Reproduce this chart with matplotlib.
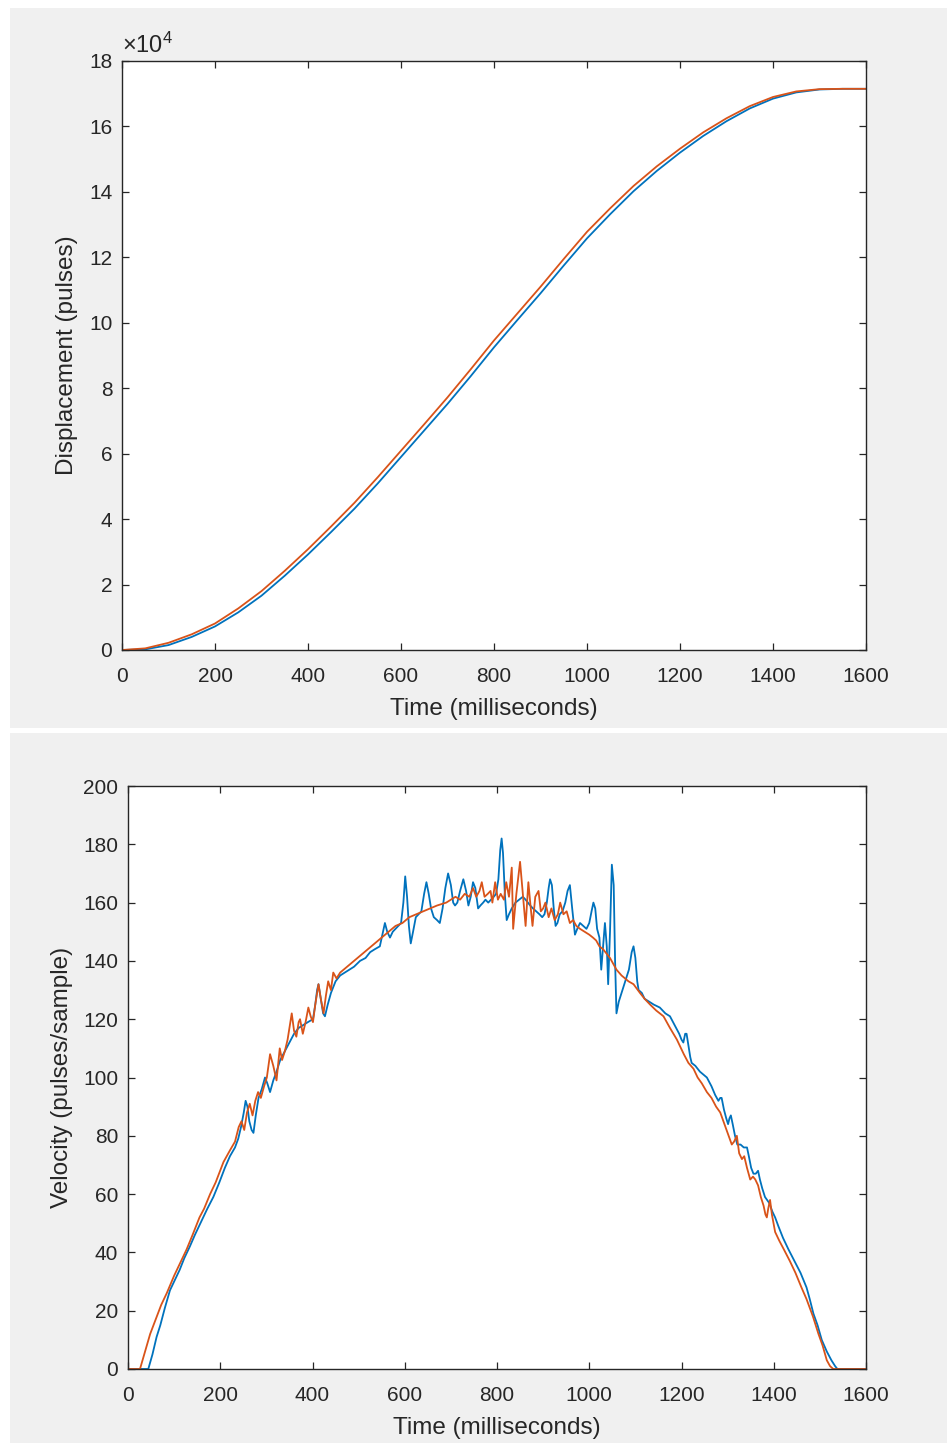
import numpy as np
import matplotlib.pyplot as plt
from matplotlib.patches import Rectangle

plt.rcParams['font.family'] = ['Liberation Sans', 'DejaVu Sans']
plt.rcParams['mathtext.fontset'] = 'custom'
plt.rcParams['mathtext.rm'] = 'Liberation Sans'
plt.rcParams['mathtext.it'] = 'Liberation Sans:italic'

# ---------------- displacement (x 1e4 pulses) ----------------
t_disp = [0, 50, 100, 150, 200, 250, 300, 350, 400, 450, 500, 550, 600, 650, 700, 750, 800,
          850, 900, 950, 1000, 1050, 1100, 1150, 1200, 1250, 1300, 1350, 1400, 1450, 1500, 1550, 1600]
disp_blue = [0, 0.02, 0.15, 0.40, 0.72, 1.15, 1.66, 2.27, 2.92, 3.61, 4.32, 5.09, 5.90, 6.71, 7.52, 8.37, 9.25,
             10.08, 10.90, 11.75, 12.58, 13.32, 14.02, 14.64, 15.20, 15.71, 16.16, 16.55, 16.85, 17.04, 17.13, 17.15, 17.15]
disp_orange = [0, 0.05, 0.22, 0.48, 0.81, 1.27, 1.80, 2.42, 3.08, 3.78, 4.50, 5.28, 6.09, 6.90, 7.72, 8.58, 9.46,
               10.28, 11.10, 11.95, 12.78, 13.50, 14.18, 14.78, 15.32, 15.82, 16.25, 16.62, 16.90, 17.07, 17.14, 17.15, 17.15]

# ---------------- velocity (pulses/sample) ----------------
t_vel_blue = [0, 44, 53, 62, 70, 80, 91, 100, 112, 122, 134, 145, 160, 172, 185, 198, 210, 221, 232, 239,
              245, 251, 255, 259, 263, 268, 272, 277, 283, 290, 297, 302, 308, 315, 322, 330, 340, 350, 360, 370,
              380, 390, 401, 406, 410, 413, 418, 423, 427, 433, 440, 450, 460, 470, 480, 490, 503, 515, 525, 535,
              546, 553, 557, 562, 568, 574, 580, 586, 592, 597, 601, 605, 609, 613, 618, 624, 630, 636, 642, 647,
              652, 657, 663, 670, 676, 682, 688, 694, 700, 705, 709, 714, 720, 727, 733, 738, 743, 748, 753, 759,
              764, 770, 775, 781, 787, 793, 798, 803, 807, 810, 813, 817, 821, 826, 832, 840, 848, 856, 862, 867,
              872, 878, 885, 892, 898, 903, 908, 912, 915, 919, 923, 927, 931, 936, 942, 948, 953, 958, 963, 969,
              974, 980, 987, 994, 1000, 1005, 1009, 1013, 1017, 1022, 1026, 1030, 1034, 1038, 1041, 1045, 1049, 1053, 1056, 1059,
              1064, 1070, 1078, 1086, 1092, 1096, 1100, 1104, 1107, 1114, 1120, 1130, 1140, 1153, 1165, 1175, 1185, 1195, 1200, 1204,
              1208, 1211, 1215, 1219, 1222, 1230, 1240, 1255, 1265, 1273, 1280, 1284, 1287, 1292, 1297, 1301, 1304, 1307, 1311, 1316,
              1321, 1328, 1335, 1342, 1346, 1351, 1356, 1361, 1366, 1370, 1375, 1381, 1390, 1397, 1403, 1410, 1420, 1432, 1445, 1458,
              1471, 1478, 1486, 1495, 1504, 1515, 1525, 1533, 1538, 1600]
vel_blue = [0, 0, 5, 11, 15, 21, 27, 30, 34, 38, 42, 46, 51, 55, 59, 64, 69, 73, 76, 79,
            83, 88, 92, 90, 85, 82, 81, 87, 93, 96, 100, 98, 95, 99, 102, 106, 109, 112, 115, 117,
            118, 119, 120, 125, 130, 132, 127, 122, 121, 125, 129, 133, 135, 136, 137, 138, 140, 141, 143, 144,
            145, 150, 153, 150, 148, 150, 151, 152, 153, 160, 169, 162, 152, 146, 150, 155, 156, 157, 163, 167,
            163, 158, 155, 154, 153, 158, 165, 170, 166, 160, 159, 160, 164, 168, 164, 159, 162, 167, 165, 158,
            159, 160, 161, 160, 161, 162, 163, 168, 178, 182, 177, 163, 154, 156, 158, 160, 161, 162, 161, 160,
            159, 158, 157, 156, 155, 156, 160, 165, 168, 166, 158, 152, 153, 156, 157, 160, 164, 166, 158, 149,
            151, 153, 152, 151, 153, 157, 160, 158, 151, 148, 137, 145, 153, 145, 132, 150, 173, 166, 140, 122,
            126, 129, 133, 137, 143, 145, 141, 133, 130, 129, 127, 126, 125, 124, 122, 121, 118, 115, 113, 112,
            115, 115, 111, 107, 105, 104, 102, 100, 97, 94, 92, 93, 93, 89, 86, 84, 86, 87, 84, 80,
            77, 77, 76, 76, 73, 69, 67, 67, 68, 65, 62, 59, 57, 54, 52, 49, 45, 41, 37, 33,
            28, 24, 19, 15, 10, 6, 3, 1, 0, 0]

t_vel_orange = [0, 26, 37, 48, 60, 72, 84, 100, 115, 127, 140, 155, 165, 178, 190, 207, 221, 232, 240, 246,
                252, 258, 264, 270, 276, 282, 288, 295, 301, 308, 315, 322, 329, 334, 340, 346, 355, 360, 365, 370,
                373, 379, 385, 391, 396, 401, 406, 413, 418, 424, 429, 434, 440, 445, 452, 460, 475, 490, 505, 520,
                535, 550, 565, 580, 595, 610, 625, 640, 655, 670, 690, 700, 710, 720, 730, 740, 748, 755, 762, 767,
                773, 780, 786, 790, 796, 802, 808, 815, 820, 826, 832, 835, 842, 850, 856, 862, 868, 872, 877, 883,
                890, 895, 900, 905, 912, 918, 925, 932, 937, 944, 951, 958, 965, 972, 980, 990, 1000, 1008, 1015, 1022,
                1030, 1040, 1045, 1059, 1070, 1085, 1096, 1110, 1120, 1132, 1145, 1161, 1175, 1190, 1205, 1215, 1226, 1235, 1244, 1255,
                1265, 1275, 1284, 1293, 1300, 1309, 1314, 1320, 1325, 1331, 1336, 1342, 1349, 1355, 1360, 1366, 1372, 1378, 1382, 1385,
                1388, 1392, 1396, 1403, 1412, 1422, 1435, 1447, 1460, 1471, 1485, 1497, 1506, 1515, 1522, 1529, 1600]
vel_orange = [0, 0, 6, 12, 17, 22, 26, 32, 37, 41, 46, 52, 55, 60, 64, 71, 75, 78, 83, 85,
              82, 88, 91, 87, 92, 95, 93, 97, 100, 108, 104, 99, 110, 106, 109, 113, 122, 116, 114, 119,
              120, 115, 119, 124, 121, 119, 125, 132, 127, 122, 128, 133, 130, 136, 134, 136, 138, 140, 142, 144,
              146, 148, 150, 152, 153, 155, 156, 157, 158, 159, 160, 161, 162, 161, 163, 162, 165, 162, 164, 167,
              162, 163, 164, 160, 167, 161, 163, 161, 167, 162, 172, 151, 163, 174, 163, 152, 167, 160, 152, 162,
              164, 157, 158, 160, 155, 158, 154, 156, 160, 156, 157, 153, 154, 152, 151, 150, 149, 148, 147, 145,
              144, 142, 141, 137, 135, 133, 132, 129, 127, 125, 123, 121, 117, 113, 108, 105, 103, 100, 98, 95,
              93, 90, 88, 84, 81, 77, 78, 80, 74, 72, 73, 69, 65, 66, 65, 63, 59, 56, 53, 52,
              55, 58, 53, 47, 44, 41, 37, 33, 28, 24, 18, 12, 8, 3, 1, 0, 0]

blue = '#0072BD'
orange = '#D95319'
ink = '#262626'
panel = '#F0F0F0'

W, H = 947, 1443
fig = plt.figure(figsize=(W / 100, H / 100), dpi=100, facecolor='white')

# grey figure panels (two stacked MATLAB windows)
fig.patches.append(Rectangle((10 / W, (H - 728) / H), 937 / W, 720 / H,
                             transform=fig.transFigure, facecolor=panel, edgecolor='none', zorder=-10))
fig.patches.append(Rectangle((10 / W, 0), 937 / W, (H - 733) / H,
                             transform=fig.transFigure, facecolor=panel, edgecolor='none', zorder=-10))

ax1 = fig.add_axes([122 / W, (H - 650) / H, 744 / W, 589 / H])
ax2 = fig.add_axes([128 / W, (H - 1369) / H, 738 / W, 583 / H])

ax1.plot(t_disp, disp_blue, color=blue, lw=1.3)
ax1.plot(t_disp, disp_orange, color=orange, lw=1.3)
ax1.set_xlim(0, 1600)
ax1.set_ylim(0, 18)
ax1.set_yticks(np.arange(0, 19, 2))
ax1.set_ylabel('Displacement (pulses)', fontsize=17.5, color=ink, labelpad=8)
ax1.text(0.0, 1.006, r'$\times10^{4}$', transform=ax1.transAxes, ha='left', va='bottom',
         fontsize=17, color=ink)

ax2.plot(t_vel_blue, vel_blue, color=blue, lw=1.3)
ax2.plot(t_vel_orange, vel_orange, color=orange, lw=1.3)
ax2.set_xlim(0, 1600)
ax2.set_ylim(0, 200)
ax2.set_yticks(np.arange(0, 201, 20))
ax2.set_ylabel('Velocity (pulses/sample)', fontsize=17.5, color=ink, labelpad=7)

for ax in (ax1, ax2):
    ax.set_facecolor('white')
    ax.set_xticks(np.arange(0, 1601, 200))
    ax.set_xlabel('Time (milliseconds)', fontsize=17.5, color=ink, labelpad=9)
    ax.tick_params(direction='in', top=True, right=True, length=5, width=0.9,
                   colors=ink, labelsize=15, pad=7)
    ax.tick_params(axis='x', pad=12)
    for s in ax.spines.values():
        s.set_color(ink)
        s.set_linewidth(1.0)

fig.savefig('out.png', dpi=100, facecolor='white')
